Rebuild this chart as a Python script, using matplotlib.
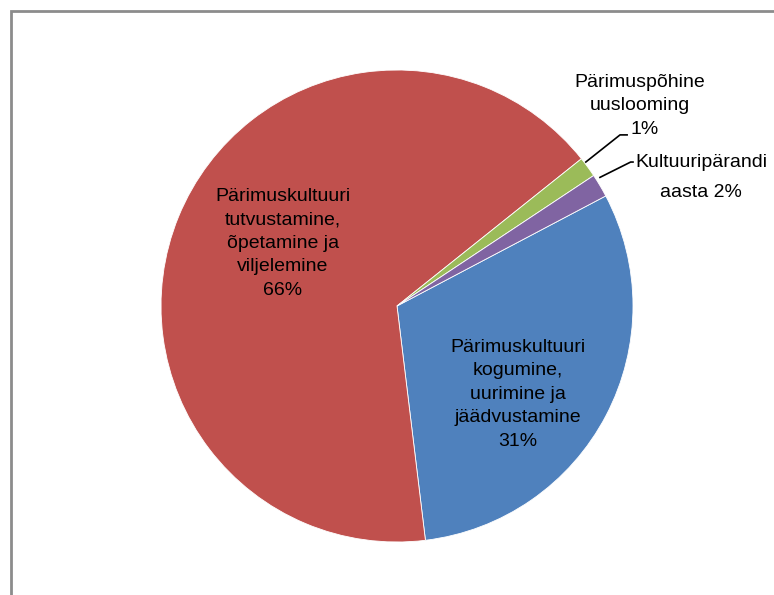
import matplotlib.pyplot as plt
from matplotlib.patches import Rectangle

# slice data, in drawing order (clockwise)
categories = ['Pärimuskultuuri\nkogumine,\nuurimine ja\njäädvustamine',
              'Pärimuskultuuri\ntutvustamine,\nõpetamine ja\nviljelemine',
              'Pärimuspõhine\nuuslooming',
              'Kultuuripärandi\naasta']
values = [30.8, 66.2, 1.4, 1.6]
pct_labels = ['31%', '66%', '1%', '2%']
colors = ['#4F81BD', '#C0504D', '#9BBB59', '#8064A2']

plt.rcParams['font.family'] = ['Liberation Sans', 'DejaVu Sans']

fig = plt.figure(figsize=(7.74, 5.95), dpi=100)

# chart area border (Excel style, partially cut off)
fig.patches.append(Rectangle((11 / 774, -0.1), 1.2, 1 - 11 / 595 + 0.1,
                             transform=fig.transFigure, fill=False,
                             edgecolor='#8c8c8c', linewidth=2))

ax = fig.add_axes([(397 - 236) / 774, (595 - 306 - 236) / 595, 472 / 774, 472 / 595])
wedges, _ = ax.pie(values, colors=colors, startangle=27.8, counterclock=False,
                   radius=1, wedgeprops=dict(edgecolor='white', linewidth=0.6))
ax.set_xlim(-1, 1)
ax.set_ylim(-1, 1)
ax.axis('off')

fs = 14
ax.text(-0.483, 0.265, categories[1] + '\n' + pct_labels[1], ha='center', va='center',
        fontsize=fs, linespacing=1.5)
ax.text(0.513, -0.373, categories[0] + '\n' + pct_labels[0], ha='center', va='center',
        fontsize=fs, linespacing=1.5)

# outside labels with leader lines
ax.text(1.03, 0.898, categories[2], ha='center', va='center', fontsize=fs, linespacing=1.4,
        clip_on=False)
ax.text(0.99, 0.746, pct_labels[2], ha='left', va='center', fontsize=fs, clip_on=False)
ax.plot([0.8, 0.945, 0.975], [0.61, 0.725, 0.725], color='black', lw=1.2, clip_on=False)

ax.text(1.008, 0.61, 'Kultuuripärandi', ha='left', va='center', fontsize=fs, clip_on=False)
ax.text(1.288, 0.483, 'aasta ' + pct_labels[3], ha='center', va='center', fontsize=fs,
        clip_on=False)
ax.plot([0.86, 0.99, 1.0], [0.545, 0.61, 0.61], color='black', lw=1.2, clip_on=False)

fig.savefig('out.png', dpi=100)
